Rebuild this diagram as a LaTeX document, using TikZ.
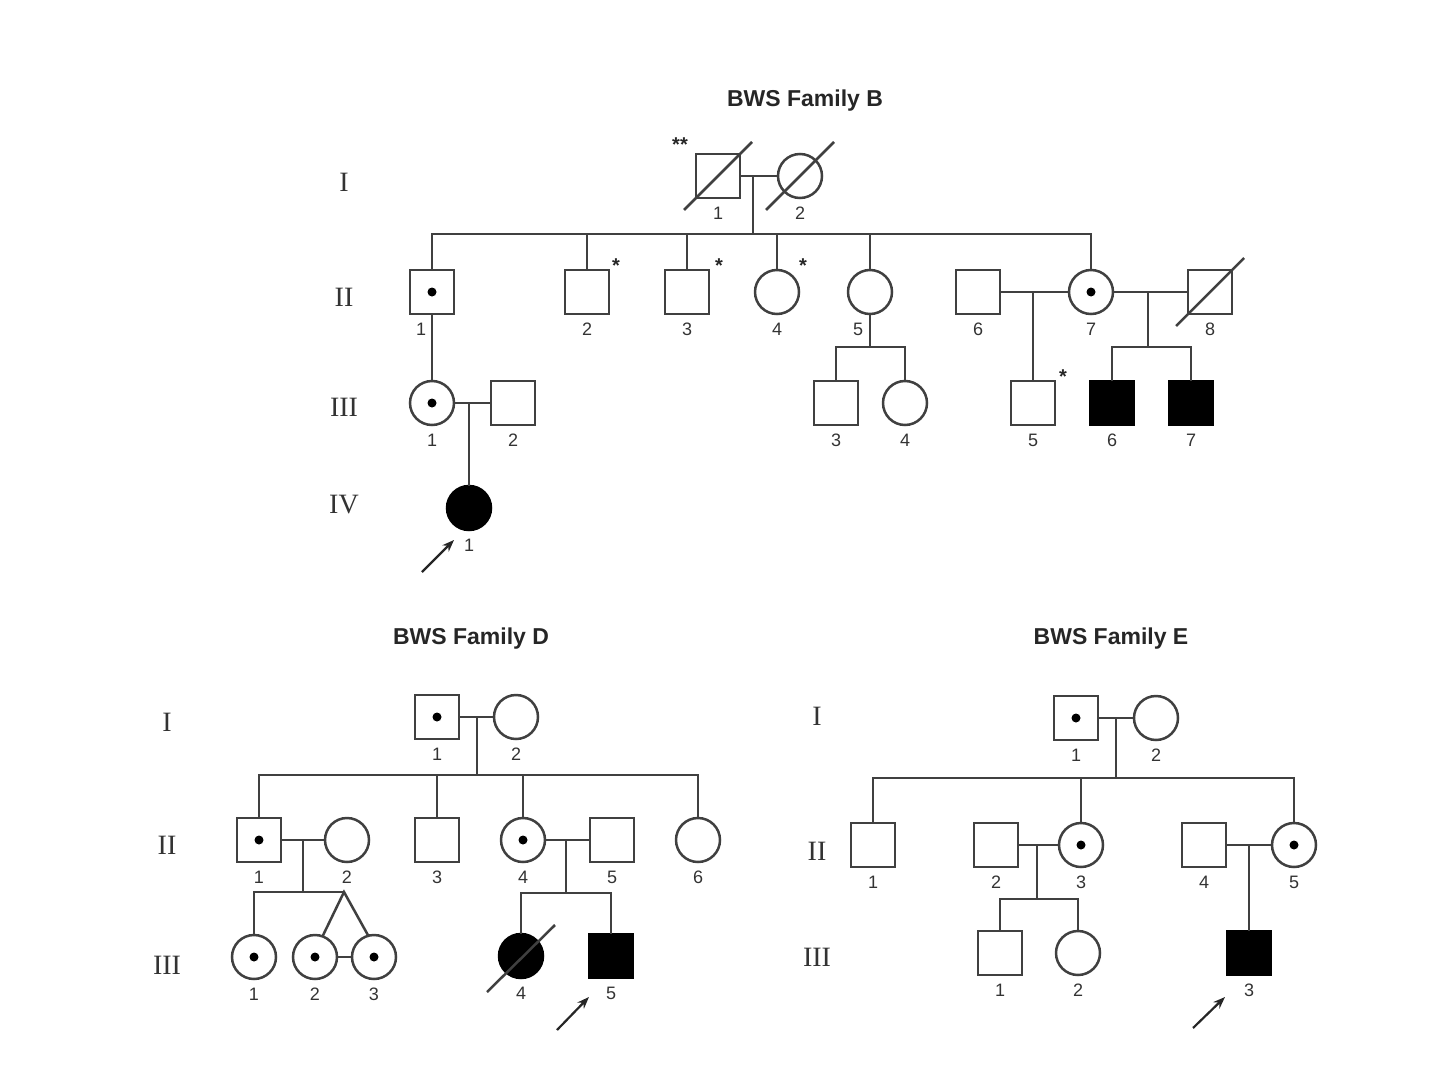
\documentclass[tikz,border=0pt]{standalone}
\usepackage{fontspec}
\setmainfont{Liberation Serif}
\setsansfont{Liberation Sans}
\usetikzlibrary{positioning, arrows.meta}
\tikzstyle{male}=[rectangle, draw=black!75, line width=2.5pt, minimum size=44pt, inner sep=0pt, outer sep=0pt]
\tikzstyle{female}=[circle, draw=black!75, line width=2.5pt, minimum size=44pt, inner sep=0pt, outer sep=0pt]
\tikzstyle{affected}=[fill=black, draw=black]
\tikzstyle{carrier}=[path picture={\fill[black] (path picture bounding box.center) circle (4.5pt);}]
\tikzstyle{num}=[font=\sffamily\fontsize{18}{18}\selectfont, text=black!80, inner sep=0pt, yshift=-9pt]
\tikzstyle{gen}=[font=\fontsize{28}{28}\selectfont, text=black!80, inner sep=0pt]
\tikzstyle{famtitle}=[font=\sffamily\bfseries\fontsize{23}{23}\selectfont, text=black!85, inner sep=0pt]
\tikzstyle{ast}=[font=\sffamily\bfseries\fontsize{20}{20}\selectfont, text=black!85, inner sep=0pt]
\tikzstyle{link}=[draw=black!75, line width=2.5pt]
\tikzstyle{proband}=[draw=black!85, line width=2.2pt, -{Stealth[length=12pt, width=9pt]}]

\begin{document}
\begin{tikzpicture}[x=1pt, y=-1pt]
	\useasboundingbox (0,0) rectangle (1440,1065);

	% Family B
	\node[famtitle] (bTitle) at (805,101) {BWS Family B};
	\foreach \g/\y in {I/182, II/297, III/407, IV/505}{ \node[gen] (bGen\g) at (344,\y) {\g}; }

	\node[male, label={[num]below:1}] (bI1) at (718,176) {};
	\node[female, label={[num]below:2}] (bI2) at (800,176) {};
	\node[ast] (bI1s) at ([shift={(-38,-31)}]bI1.center) {**};

	\node[male, carrier, label={[num, xshift=-11pt]below:1}] (bII1) at (432,292) {};
	\node[male, label={[num]below:2}] (bII2) at (587,292) {};
	\node[male, label={[num]below:3}] (bII3) at (687,292) {};
	\node[female, label={[num]below:4}] (bII4) at (777,292) {};
	\node[female, label={[num, xshift=-12pt]below:5}] (bII5) at (870,292) {};
	\node[male, label={[num]below:6}] (bII6) at (978,292) {};
	\node[female, carrier, label={[num]below:7}] (bII7) at (1091,292) {};
	\node[male, label={[num]below:8}] (bII8) at (1210,292) {};
	\node[ast] (bII2s) at ([shift={(29,-26)}]bII2.center) {*};
	\node[ast] (bII3s) at ([shift={(32,-26)}]bII3.center) {*};
	\node[ast] (bII4s) at ([shift={(26,-26)}]bII4.center) {*};

	\node[female, carrier, label={[num]below:1}] (bIII1) at (432,403) {};
	\node[male, label={[num]below:2}] (bIII2) at (513,403) {};
	\node[male, label={[num]below:3}] (bIII3) at (836,403) {};
	\node[female, label={[num]below:4}] (bIII4) at (905,403) {};
	\node[male, label={[num]below:5}] (bIII5) at (1033,403) {};
	\node[male, affected, label={[num]below:6}] (bIII6) at (1112,403) {};
	\node[male, affected, label={[num]below:7}] (bIII7) at (1191,403) {};
	\node[ast] (bIII5s) at ([shift={(30,-26)}]bIII5.center) {*};

	\node[female, affected, label={[num]below:1}] (bIV1) at (469,508) {};

	\coordinate (bM1) at (753,176);
	\coordinate (bS1) at (753,234);
	\coordinate (bS2) at (870,347);
	\coordinate (bM2) at (1033,292);
	\coordinate (bM3) at (1148,292);
	\coordinate (bS3) at (1148,347);
	\coordinate (bM4) at (469,403);
	\coordinate (bPro) at (422,572);

	\draw[link] (bI1.east) -- (bI2.west);
	\draw[link] (bM1) -- (bS1);
	\draw[link] (bII1.north) |- (bS1) -| (bII7.north);
	\foreach \n in {bII2, bII3, bII4, bII5}{ \draw[link] (\n.north) -- (\n.north |- bS1); }
	\draw[link] (bII1.south) -- (bIII1.north);
	\draw[link] (bII5.south) -- (bS2);
	\draw[link] (bIII3.north) |- (bS2) -| (bIII4.north);
	\draw[link] (bII6.east) -- (bII7.west);
	\draw[link] (bM2) -- (bIII5.north);
	\draw[link] (bII7.east) -- (bII8.west);
	\draw[link] (bM3) -- (bS3);
	\draw[link] (bIII6.north) |- (bS3) -| (bIII7.north);
	\draw[link] (bIII1.east) -- (bIII2.west);
	\draw[link] (bM4) -- (bIV1.north);
	\foreach \n in {bI1, bI2, bII8}{ \draw[link] ([shift={(-34,34)}]\n.center) -- ([shift={(34,-34)}]\n.center); }
	\draw[proband] (bPro) -- ([shift={(-15,32)}]bIV1.center);

	% Family D
	\node[famtitle] (dTitle) at (471,639) {BWS Family D};
	\foreach \g/\y in {I/722, II/845, III/965}{ \node[gen] (dGen\g) at (167,\y) {\g}; }

	\node[male, carrier, label={[num]below:1}] (dI1) at (437,717) {};
	\node[female, label={[num]below:2}] (dI2) at (516,717) {};

	\node[male, carrier, label={[num]below:1}] (dII1) at (259,840) {};
	\node[female, label={[num]below:2}] (dII2) at (347,840) {};
	\node[male, label={[num]below:3}] (dII3) at (437,840) {};
	\node[female, carrier, label={[num]below:4}] (dII4) at (523,840) {};
	\node[male, label={[num]below:5}] (dII5) at (612,840) {};
	\node[female, label={[num]below:6}] (dII6) at (698,840) {};

	\node[female, carrier, label={[num]below:1}] (dIII1) at (254,957) {};
	\node[female, carrier, label={[num]below:2}] (dIII2) at (315,957) {};
	\node[female, carrier, label={[num]below:3}] (dIII3) at (374,957) {};
	\node[female, affected, label={[num]below:4}] (dIII4) at (521,956) {};
	\node[male, affected, label={[num]below:5}] (dIII5) at (611,956) {};

	\coordinate (dM1) at (477,717);
	\coordinate (dS1) at (477,775);
	\coordinate (dM2) at (303,840);
	\coordinate (dS2) at (303,892);
	\coordinate (dTw) at (344,892);
	\coordinate (dM3) at (566,840);
	\coordinate (dS3) at (566,893);
	\coordinate (dPro) at (557,1030);

	\draw[link] (dI1.east) -- (dI2.west);
	\draw[link] (dM1) -- (dS1);
	\draw[link] (dII1.north) |- (dS1) -| (dII6.north);
	\foreach \n in {dII3, dII4}{ \draw[link] (\n.north) -- (\n.north |- dS1); }
	\draw[link] (dII1.east) -- (dII2.west);
	\draw[link] (dM2) -- (dS2);
	\draw[link] (dIII1.north) |- (dTw);
	\draw[link] (dIII2.70) -- (dTw) -- (dIII3.105);
	\draw[link] (dIII2.east) -- (dIII3.west);
	\draw[link] (dII4.east) -- (dII5.west);
	\draw[link] (dM3) -- (dS3);
	\draw[link] (dIII4.north) |- (dS3) -| (dIII5.north);
	\draw[link] ([shift={(-34,36)}]dIII4.center) -- ([shift={(34,-31)}]dIII4.center);
	\draw[proband] (dPro) -- ([shift={(-22,41)}]dIII5.center);

	% Family E
	\node[famtitle] (eTitle) at (1111,639) {BWS Family E};
	\foreach \g/\y in {I/716, II/851, III/957}{ \node[gen] (eGen\g) at (817,\y) {\g}; }

	\node[male, carrier, label={[num]below:1}] (eI1) at (1076,718) {};
	\node[female, label={[num]below:2}] (eI2) at (1156,718) {};

	\node[male, label={[num]below:1}] (eII1) at (873,845) {};
	\node[male, label={[num]below:2}] (eII2) at (996,845) {};
	\node[female, carrier, label={[num]below:3}] (eII3) at (1081,845) {};
	\node[male, label={[num]below:4}] (eII4) at (1204,845) {};
	\node[female, carrier, label={[num]below:5}] (eII5) at (1294,845) {};

	\node[male, label={[num]below:1}] (eIII1) at (1000,953) {};
	\node[female, label={[num]below:2}] (eIII2) at (1078,953) {};
	\node[male, affected, label={[num]below:3}] (eIII3) at (1249,953) {};

	\coordinate (eM1) at (1116,718);
	\coordinate (eS1) at (1116,778);
	\coordinate (eM2) at (1037,845);
	\coordinate (eS2) at (1037,899);
	\coordinate (eM3) at (1249,845);
	\coordinate (ePro) at (1193,1028);

	\draw[link] (eI1.east) -- (eI2.west);
	\draw[link] (eM1) -- (eS1);
	\draw[link] (eII1.north) |- (eS1) -| (eII5.north);
	\draw[link] (eII3.north) -- (eII3.north |- eS1);
	\draw[link] (eII2.east) -- (eII3.west);
	\draw[link] (eM2) -- (eS2);
	\draw[link] (eIII1.north) |- (eS2) -| (eIII2.north);
	\draw[link] (eII4.east) -- (eII5.west);
	\draw[link] (eM3) -- (eIII3.north);
	\draw[proband] (ePro) -- ([shift={(-24,44)}]eIII3.center);
\end{tikzpicture}
\end{document}
